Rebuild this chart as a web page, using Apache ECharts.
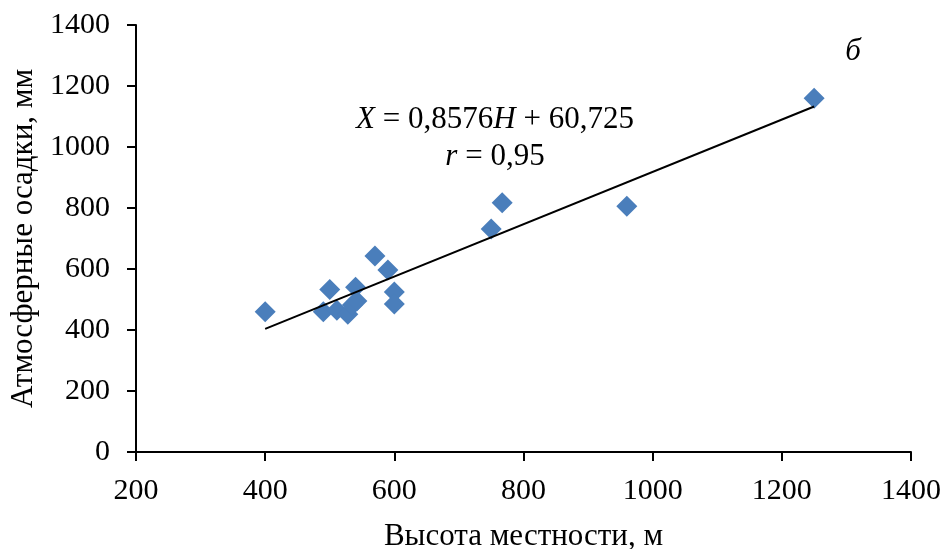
<!DOCTYPE html>
<html>
<head>
<meta charset="utf-8">
<script src="https://cdn.jsdelivr.net/npm/echarts@6/dist/echarts.min.js"></script>
<style>
html,body{margin:0;padding:0;background:#fff;}
#chart{width:949px;height:549px;}
</style>
</head>
<body>
<div id="chart"></div>
<script>
// высота местности (м) и осадки (мм)
var heights = [400, 490, 500, 511, 528, 535, 540, 542, 570, 590, 600, 600, 750, 767, 960, 1250];
var precip  = [460, 460, 533, 465, 452, 482, 540, 495, 643, 597, 525, 485, 731, 817, 806, 1160];

// линия тренда X = 0,8576H + 60,725
var trendK = 0.8576, trendB = 60.725;
var trendX = [400, 1250];

var xTicks = [200, 400, 600, 800, 1000, 1200, 1400];
var yTicks = [0, 200, 400, 600, 800, 1000, 1200, 1400];

var font = '"Liberation Serif", "Times New Roman", serif';

var pts = [];
for (var i = 0; i < heights.length; i++) {
    pts.push([heights[i], precip[i]]);
}
var trendPts = [];
for (var j = 0; j < trendX.length; j++) {
    trendPts.push([trendX[j], trendK * trendX[j] + trendB]);
}

var richEq = {
    i: {fontFamily: font, fontSize: 31, fontStyle: 'italic', fill: '#000', color: '#000'},
    n: {fontFamily: font, fontSize: 31, fill: '#000', color: '#000'}
};

var chart = echarts.init(document.getElementById('chart'));
chart.setOption({
    animation: false,
    backgroundColor: '#fff',
    grid: {left: 136, right: 38, top: 25, bottom: 97, containLabel: false, outerBoundsMode: 'none'},
    xAxis: {
        type: 'value',
        min: xTicks[0], max: xTicks[xTicks.length - 1], interval: 200,
        name: 'Высота местности, м',
        nameLocation: 'middle', nameGap: 69,
        nameTextStyle: {fontFamily: font, fontSize: 31, color: '#000'},
        axisLine: {lineStyle: {color: '#000', width: 2}},
        axisTick: {show: true, length: 9, inside: false, lineStyle: {color: '#000', width: 2}},
        axisLabel: {fontFamily: font, fontSize: 30, color: '#000', margin: 24,
            formatter: function (v) { return String(v); }},
        splitLine: {show: false}
    },
    yAxis: {
        type: 'value',
        min: yTicks[0], max: yTicks[yTicks.length - 1], interval: 200,
        name: 'Атмосферные осадки, мм',
        nameLocation: 'middle', nameGap: 89,
        nameTextStyle: {fontFamily: font, fontSize: 31, color: '#000'},
        axisLine: {show: true, lineStyle: {color: '#000', width: 2}},
        axisTick: {show: true, length: 9, inside: false, lineStyle: {color: '#000', width: 2}},
        axisLabel: {fontFamily: font, fontSize: 30, color: '#000', margin: 26,
            formatter: function (v) { return String(v); }},
        splitLine: {show: false}
    },
    series: [
        {
            type: 'line',
            data: trendPts,
            symbol: 'none',
            lineStyle: {color: '#000', width: 2},
            z: 3
        },
        {
            type: 'scatter',
            data: pts,
            symbol: 'diamond',
            symbolSize: [21, 21],
            itemStyle: {color: '#4a7ebb', opacity: 1},
            z: 2
        }
    ],
    graphic: [
        {
            type: 'text', x: 495, y: 120,
            style: {
                align: 'center', verticalAlign: 'middle',
                rich: richEq,
                text: '{i|X}{n| = 0,8576}{i|H}{n| + 60,725}'
            }
        },
        {
            type: 'text', x: 495, y: 157,
            style: {
                align: 'center', verticalAlign: 'middle',
                rich: richEq,
                text: '{i|r}{n| = 0,95}'
            }
        },
        {
            type: 'text', x: 853, y: 52,
            style: {text: 'б', align: 'center', verticalAlign: 'middle',
                fontFamily: font, fontSize: 31, fontStyle: 'italic', fill: '#000'}
        }
    ]
});
</script>
</body>
</html>
